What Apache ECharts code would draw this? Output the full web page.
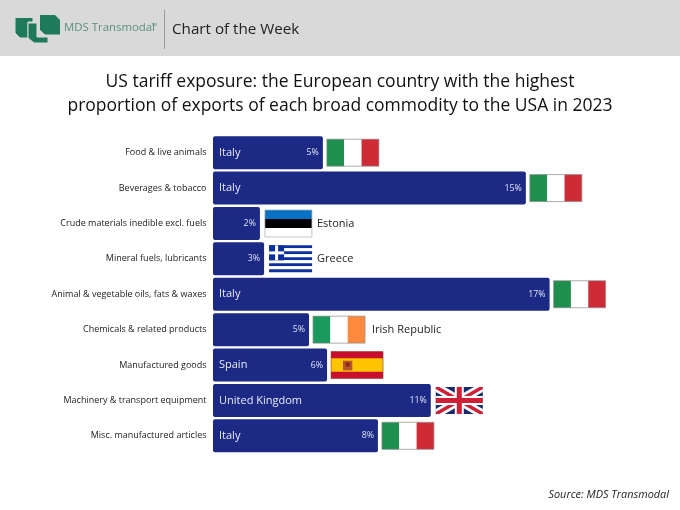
<!DOCTYPE html>
<html><head><meta charset="utf-8">
<style>html,body{margin:0;padding:0;background:#fff}#c{width:680px;height:510px}</style>
<script src="https://cdn.jsdelivr.net/npm/echarts@6/dist/echarts.min.js"></script>
</head><body><div id="c"></div>
<script>
const categories = ['Food & live animals','Beverages & tobacco','Crude materials inedible excl. fuels','Mineral fuels, lubricants','Animal & vegetable oils, fats & waxes','Chemicals & related products','Manufactured goods','Machinery & transport equipment','Misc. manufactured articles'];
const values = [5.55,15.8,2.37,2.58,17.0,4.85,5.76,11.0,8.33];
const pctLabels = ['5%','15%','2%','3%','17%','5%','6%','11%','8%'];
const countries = ['Italy','Italy','Estonia','Greece','Italy','Irish Republic','Spain','United Kingdom','Italy'];
const countryInside = [true,true,false,false,true,false,true,true,true];
const flagWidths = [52,52,47,43,52,52,52,47,52];
const BLUE = '#1c2a85';
const FONT = '"Open Sans", sans-serif';
const LABELFONT = '"Open Sans", sans-serif';

function R(x,y,w,h,fill){return {type:'rect',shape:{x,y,width:w,height:h},style:{fill}};}
function P(points,fill){return {type:'polygon',shape:{points},style:{fill}};}
function tri(w,h,fills,border){
  const a=[R(0,0,w/3,h,fills[0]),R(w/3,0,w/3,h,fills[1]),R(2*w/3,0,w/3,h,fills[2])];
  a.push({type:'rect',shape:{x:0,y:0,width:w,height:h},style:{fill:'none',stroke:border,lineWidth:0.7}});
  return a;
}
const flags = {
  'Italy':(w,h)=>tri(w,h,['#1f8f4e','#ffffff','#cf2b37'],'#8a8a8a'),
  'Irish Republic':(w,h)=>tri(w,h,['#1a9a5f','#ffffff','#ff8a3d'],'#8a8a8a'),
  'Estonia':(w,h)=>[R(0,0,w,h/3,'#0a72c4'),R(0,h/3,w,h/3,'#000000'),R(0,2*h/3,w,h/3,'#ffffff'),
    {type:'rect',shape:{x:0,y:0,width:w,height:h},style:{fill:'none',stroke:'#aaaaaa',lineWidth:0.7}}],
  'Greece':(w,h)=>{const s=h/9,a=[];for(let i=0;i<9;i++)a.push(R(0,i*s,w,s,i%2?'#ffffff':'#0b2f9c'));
    a.push(R(0,0,5*s,5*s,'#0b2f9c'),R(2*s,0,s,5*s,'#ffffff'),R(0,2*s,5*s,s,'#ffffff'));return a;},
  'Spain':(w,h)=>[R(0,0,w,h,'#c8102e'),R(0,h/4,w,h/2,'#ffc400'),R(w*0.23,h*0.34,w*0.18,h*0.36,'#b5552b'),R(w*0.28,h*0.4,w*0.08,h*0.16,'#8a2a1c'),
    {type:'rect',shape:{x:0,y:0,width:w,height:h},style:{fill:'none',stroke:'#8a2a1c',lineWidth:0.5}}],
  'United Kingdom':(w,h)=>{
    const diag=(t,s,c)=>[P([[0,0],[t,0],[w,h-s],[w,h],[w-t,h],[0,s]],c),P([[w,0],[w-t,0],[0,h-s],[0,h],[t,h],[w,s]],c)];
    return [R(0,0,w,h,'#1b2a6b'),...diag(9,5,'#ffffff'),...diag(3.5,2,'#cf1f36'),
      R(w/2-4.5,0,9,h,'#ffffff'),R(0,h/2-4.5,w,9,'#ffffff'),R(w/2-2.5,0,5,h,'#cf1f36'),R(0,h/2-2.5,w,5,'#cf1f36')];
  }
};

const renderFlag=(params,api)=>{
  const i=params.dataIndex, end=api.coord([api.value(0),i]);
  const name=countries[i], w=flagWidths[i], h=27;
  const x=end[0]+(w===52?4:5), y=end[1]-h/2;
  const children=[{type:'group',x,y,children:flags[name](w,h)}];
  const t=countryInside[i]
    ?{x:params.coordSys.x+6,fill:'#e8ebf7',size:11}
    :{x:x+w+(name==='Irish Republic'?7:5),fill:'#222222',size:11};
  children.push({type:'text',x:t.x,y:end[1],style:{text:name,fill:t.fill,font:t.size+'px '+LABELFONT,textVerticalAlign:'middle',textAlign:'left'}});
  return {type:'group',children};
};

const chart=echarts.init(document.getElementById('c'),null,{renderer:'canvas'});
const logo='#1f7a5c', gap={fill:logo,stroke:'#d9d9d9',lineWidth:1};
chart.setOption({
  animation:false,
  backgroundColor:'#ffffff',
  grid:{left:213,top:135,width:396,height:318.5,containLabel:false},
  xAxis:{type:'value',min:0,max:20,show:false},
  yAxis:{type:'category',inverse:true,data:categories,
    axisLine:{show:false},axisTick:{show:false},
    axisLabel:{margin:6.5,fontSize:9,color:'#222222',fontFamily:LABELFONT}},
  series:[
    {type:'bar',data:values,barWidth:33,itemStyle:{color:BLUE,borderRadius:2},
      label:{show:true,position:'insideRight',distance:4,color:'#dfe3f5',fontSize:8.8,fontFamily:LABELFONT,
        formatter:p=>pctLabels[p.dataIndex]}},
    {type:'custom',data:values.map(v=>[v]),renderItem:renderFlag,encode:{x:0},z:5,clip:false}
  ],
  graphic:[
    {type:'rect',z:-1,shape:{x:0,y:0,width:680,height:56},style:{fill:'#d9d9d9'}},
    {type:'polygon',shape:{points:[[15,17.5],[33,17.5],[33,22],[28,22],[28,38],[20,38],[15,33]]},style:gap},
    {type:'polygon',shape:{points:[[28,23],[37,23],[37,37],[48,37],[48,43],[34,43],[28,38]]},style:gap},
    {type:'polygon',shape:{points:[[39.5,14.5],[55,14.5],[60.5,20],[60.5,35],[45,35],[39.5,30]]},style:gap},
    {type:'text',x:64,y:28,style:{text:'MDS Transmodal',fill:'#5b9080',font:'11.4px '+FONT,textVerticalAlign:'middle'}},
    {type:'text',x:151.5,y:25,style:{text:'SM',fill:'#5b9080',font:'4px '+FONT,textVerticalAlign:'middle'}},
    {type:'rect',shape:{x:164,y:10,width:1,height:39},style:{fill:'#9a9a9a'}},
    {type:'text',x:172,y:30,style:{text:'Chart of the Week',fill:'#222222',font:'15.2px '+FONT,textVerticalAlign:'middle'}},
    {type:'text',x:340,y:82,style:{text:'US tariff exposure: the European country with the highest',fill:'#111111',font:'17.5px '+FONT,textAlign:'center',textVerticalAlign:'middle'}},
    {type:'text',x:340,y:106,style:{text:'proportion of exports of each broad commodity to the USA in 2023',fill:'#111111',font:'17.5px '+FONT,textAlign:'center',textVerticalAlign:'middle'}},
    {type:'text',x:669,y:495,style:{text:'Source: MDS Transmodal',fill:'#222222',font:'italic 10.9px '+FONT,textAlign:'right',textVerticalAlign:'middle'}}
  ]
});
</script></body></html>
